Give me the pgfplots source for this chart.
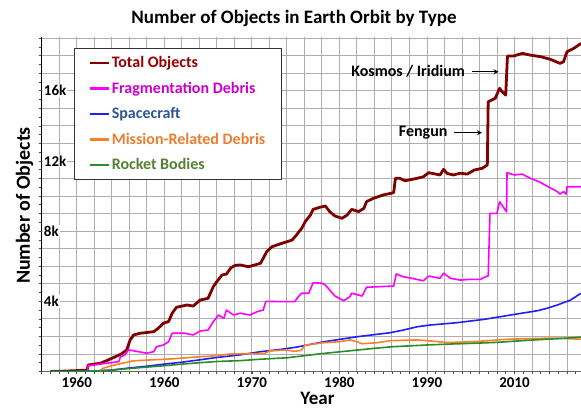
\documentclass[border=0pt]{standalone}
\usepackage{pgfplots}
\pgfplotsset{compat=1.18}
\usetikzlibrary{arrows.meta}
\usepackage{fontspec}
\setmainfont{Carlito}
\definecolor{ctot}{RGB}{128,0,0}
\definecolor{ctottxt}{RGB}{150,0,0}
\definecolor{cfrag}{RGB}{255,0,255}
\definecolor{cfragtxt}{RGB}{204,0,204}
\definecolor{csc}{RGB}{30,30,255}
\definecolor{csctxt}{RGB}{47,85,151}
\definecolor{cmis}{RGB}{255,127,39}
\definecolor{cmistxt}{RGB}{237,125,49}
\definecolor{crb}{RGB}{40,140,40}
\definecolor{crbtxt}{RGB}{84,130,53}
\begin{document}
\begin{tikzpicture}[x=1pt,y=1pt]
\useasboundingbox (-41.7,-37.5) rectangle (539.3,371.5);
\begin{axis}[
  scale only axis, width=539.3pt, height=334.8pt,
  xmin=1956, xmax=2017.6, ymin=0, ymax=19080,
  scaled y ticks=false, scaled x ticks=false,
  axis x line*=bottom, axis y line*=left,
  x axis line style={black!60, line width=0.8pt},
  y axis line style={black, line width=0.8pt},
  tick align=outside,
  xtick={1956,1958,...,2016}, xticklabels={},
  minor xtick={1956,1957,...,2017},
  ytick={1000,2000,...,19000}, yticklabels={},
  minor ytick={0,500,...,19000},
  xmajorgrids, ymajorgrids,
  major tick length=3pt, minor tick length=3pt,
  every tick/.style={black!70, line width=0.6pt},
  extra x ticks={1960,1970,1980,1990,2000,2010},
  extra x tick labels={1960,1960,1970,1980,1990,2010},
  extra x tick style={grid=none, xticklabel style={inner sep=0.5pt, yshift=-2pt}},
  extra y ticks={4000,8000,12000,16000},
  extra y tick labels={4k,8k,12k,16k},
  extra y tick style={grid=none, yticklabel style={anchor=west, xshift=4pt, fill=white, inner sep=1pt}},
  major grid style={black!32, line width=0.8pt},
  ticklabel style={font=\bfseries\fontsize{15}{15}\selectfont},
  legend style={at={(0.0599,0.9663)}, anchor=north west, draw=black!80,
    line width=0.8pt, fill=white, inner xsep=14pt, inner ysep=2pt,
    font=\bfseries\fontsize{16}{16}\selectfont, row sep=0pt,
    nodes={inner ysep=0pt, minimum height=25.5pt}},
  legend cell align=left,
  legend image code/.code={\draw[#1, line width=2.4pt] (0pt,0pt) -- (19pt,0pt);},
]
\addplot[ctot, line width=2.8pt, line join=round] coordinates {
(1957,0)(1958.5,20)(1960,50)(1961.2,80)(1961.3,370)(1962.7,470)(1963.4,615)
(1964.4,840)(1965.1,1000)(1965.7,1225)(1966.1,1795)(1966.5,2080)(1967.2,2175)
(1968.8,2270)(1969.3,2460)(1969.9,2750)(1970.5,2850)(1970.9,3320)(1971.4,3660)
(1972.6,3790)(1973.3,3730)(1974.1,4070)(1975.0,4170)(1975.6,4830)(1976.0,5120)
(1976.6,5500)(1977.1,5550)(1977.6,5900)(1978.1,6050)(1978.7,6070)(1979.6,5970)
(1980.2,6050)(1981.0,6170)(1981.3,6450)(1981.7,6830)(1982.3,7110)(1983.4,7300)
(1984.6,7490)(1985.1,7780)(1985.7,8160)(1986.1,8540)(1986.7,8920)(1987.0,9240)
(1987.8,9360)(1988.4,9430)(1988.9,9110)(1989.5,8860)(1990.3,8730)(1990.9,8920)
(1991.4,9240)(1992.2,9110)(1992.8,9300)(1993.1,9680)(1993.9,9870)(1995.0,10060)
(1996.2,10190)(1996.4,11010)(1996.9,11010)(1997.5,10870)(1998.9,11010)(1999.6,11100)
(2000.2,11330)(2000.6,11290)(2001.5,11200)(2001.9,11520)(2002.3,11290)(2003.0,11200)
(2003.8,11300)(2004.6,11250)(2005.4,11480)(2006.3,11580)(2006.9,11770)(2007.0,15370)
(2007.4,15470)(2007.8,15570)(2008.3,16140)(2008.6,15940)(2009.0,15750)(2009.2,17980)
(2009.9,17980)(2010.9,18130)(2011.8,18030)(2013.0,17940)(2014.1,17790)(2015.2,17560)
(2015.6,17650)(2016.0,18220)(2016.8,18420)(2017.6,18700)
};
\addlegendentry{\textcolor{ctottxt}{Total Objects}}
\addplot[cfrag, line width=1.6pt, line join=round] coordinates {
(1961.25,0)(1961.3,330)(1963.4,470)(1964.8,560)(1965.0,840)(1965.5,940)(1965.9,1225)
(1966.3,1200)(1968.0,1040)(1968.8,1130)(1969.1,1410)(1969.9,1510)(1970.5,1700)
(1970.9,2180)(1972.4,2180)(1973.3,2080)(1974.1,2310)(1975.0,2360)(1975.6,2840)
(1976.2,3220)(1976.8,3030)(1977.1,3500)(1977.9,3220)(1978.7,3320)(1979.8,3220)
(1980.6,3410)(1981.3,3500)(1981.6,4000)(1983.2,3980)(1984.9,3980)(1985.3,4260)
(1985.7,4460)(1986.5,4460)(1987.0,5060)(1988.0,5030)(1988.4,4930)(1988.9,4640)
(1989.5,4300)(1990.5,4030)(1991.2,4260)(1991.4,4460)(1992.6,4300)(1993.1,4800)
(1994.3,4830)(1996.2,4870)(1996.5,5560)(1997.3,5400)(1998.3,5310)(1999.6,5170)
(2000.2,5440)(2001.5,5310)(2001.9,5600)(2002.7,5310)(2003.8,5210)(2004.9,5250)
(2006.1,5250)(2006.7,5400)(2007.0,5440)(2007.2,9010)(2008.0,9010)(2008.3,9680)
(2009.1,9100)(2009.15,11330)(2010.0,11200)(2010.9,11250)(2011.8,11010)(2012.8,10820)
(2013.7,10570)(2014.9,10250)(2015.2,10110)(2015.6,10250)(2015.9,10110)(2016.0,10530)
(2017.6,10530)
};
\addlegendentry{\textcolor{cfragtxt}{Fragmentation Debris}}
\addplot[csc, line width=1.6pt, line join=round] coordinates {
(1957,0)(1960,5)(1962,20)(1964,80)(1966,200)(1968,300)(1970,420)(1972,530)
(1974,660)(1976,800)(1978.7,950)(1981,1130)(1983,1240)(1985,1380)(1988.2,1690)
(1992,1980)(1995.8,2210)(1997.3,2360)(1998.9,2550)(2000.4,2650)(2003.4,2780)
(2006.5,2970)(2008,3090)(2010.3,3280)(2012.6,3460)(2013.7,3600)(2014.9,3790)
(2016.4,4070)(2017.6,4460)
};
\addlegendentry{\textcolor{csctxt}{Spacecraft}}
\addplot[cmis, line width=1.6pt, line join=round] coordinates {
(1962.6,0)(1963,180)(1964,330)(1965.1,460)(1966.5,610)(1968,650)(1970.3,700)
(1972,760)(1974.1,840)(1976,900)(1977.5,1000)(1979,1010)(1981.5,1030)(1982,1170)
(1984,1230)(1984.8,1150)(1985.6,1200)(1986.1,1500)(1988.2,1640)(1990.1,1700)
(1991.2,1800)(1992,1700)(1992.6,1580)(1994.3,1640)(1995.8,1755)(1998.9,1800)
(2000.4,1740)(2002.3,1650)(2005.4,1700)(2009.1,1835)(2013,1890)(2014.9,1900)
(2017.6,1840)
};
\addlegendentry{\textcolor{cmistxt}{Mission-Related Debris}}
\addplot[crb, line width=1.6pt, line join=round] coordinates {
(1957,0)(1960,10)(1962,30)(1964,80)(1966,170)(1968,250)(1970,330)(1972,420)
(1974,500)(1976,570)(1978.7,620)(1981,700)(1984,780)(1986,900)(1988,1020)
(1990,1120)(1992,1220)(1994,1320)(1996,1410)(1998,1460)(2000,1510)(2003,1570)
(2006,1620)(2008,1660)(2011,1760)(2013,1820)(2015,1870)(2017.6,1960)
};
\addlegendentry{\textcolor{crbtxt}{Rocket Bodies}}
\node[font=\bfseries\fontsize{16}{16}\selectfont] at (axis cs:1997.85,17083) {Kosmos / Iridium};
\draw[-{Stealth[length=5pt,width=5pt]}, line width=1.3pt] (axis cs:2005.14,17083) -- (axis cs:2008.18,17083);
\node[font=\bfseries\fontsize{16}{16}\selectfont] at (axis cs:1999.58,13607) {Fengun};
\draw[-{Stealth[length=5pt,width=5pt]}, line width=1.3pt] (axis cs:2003.15,13607) -- (axis cs:2006.29,13607);
\end{axis}
\node[font=\bfseries\fontsize{19}{19}\selectfont] at (252.3,353.5) {Number of Objects in Earth Orbit by Type};
\node[font=\bfseries\fontsize{19}{19}\selectfont, anchor=base, inner sep=0pt] at (275.8,-33) {Year};
\node[rotate=90, font=\bfseries\fontsize{20}{20}\selectfont] at (-17.2,166) {Number of Objects};
\end{tikzpicture}
\end{document}
